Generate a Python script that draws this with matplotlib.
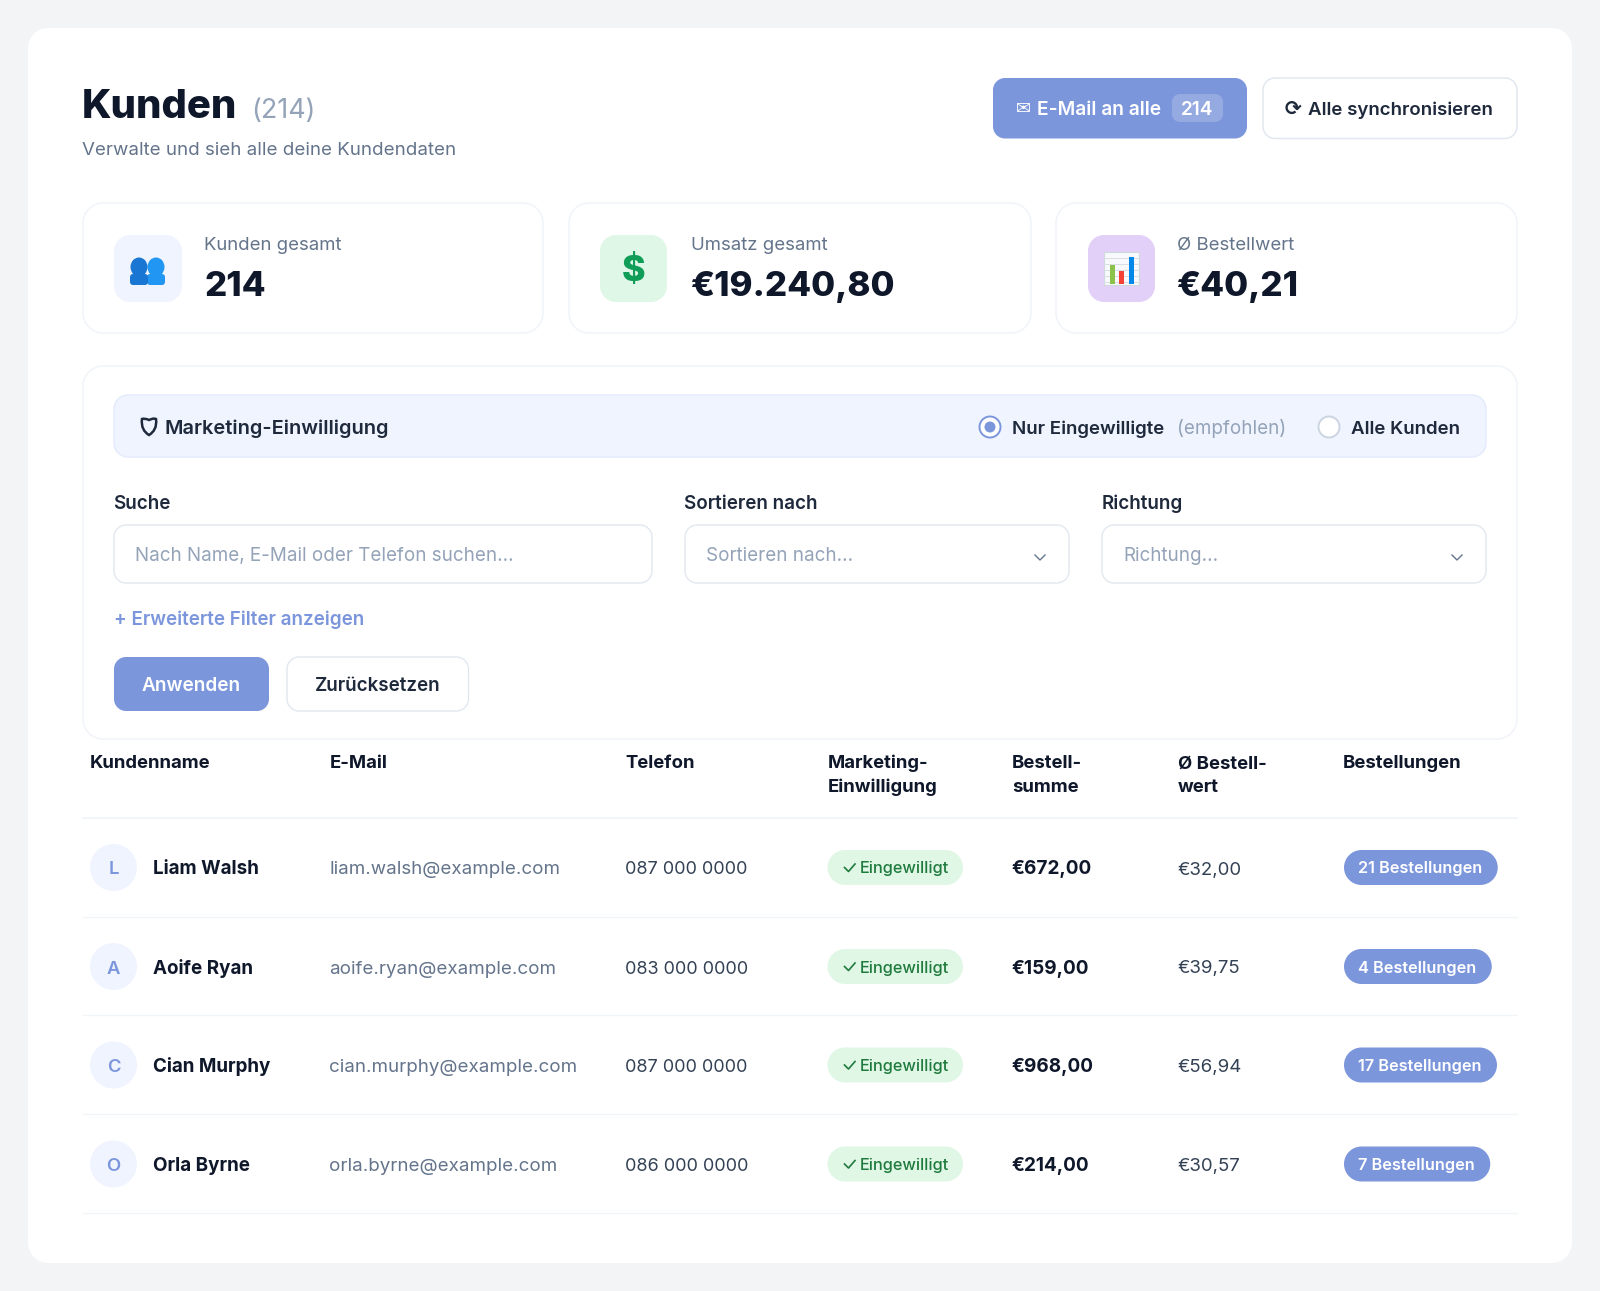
import matplotlib
matplotlib.use("Agg")
import matplotlib.pyplot as plt
from matplotlib.patches import PathPatch, Circle, Ellipse, Rectangle
from matplotlib.path import Path

FONT = ["Inter", "DejaVu Sans"]

# table data
names = ["Liam Walsh", "Aoife Ryan", "Cian Murphy", "Orla Byrne"]
emails = ["liam.walsh@example.com", "aoife.ryan@example.com", "cian.murphy@example.com", "orla.byrne@example.com"]
phones = ["087 000 0000", "083 000 0000", "087 000 0000", "086 000 0000"]
totals = ["€672,00", "€159,00", "€968,00", "€214,00"]
averages = ["€32,00", "€39,75", "€56,94", "€30,57"]
orders = ["21 Bestellungen", "4 Bestellungen", "17 Bestellungen", "7 Bestellungen"]
consent = "Eingewilligt"

headers = [["Kundenname"], ["E-Mail"], ["Telefon"], ["Marketing-", "Einwilligung"],
           ["Bestell-", "summe"], ["Ø Bestell-", "wert"], ["Bestellungen"]]

# stat cards
stat_labels = ["Kunden gesamt", "Umsatz gesamt", "Ø Bestellwert"]
stat_values = ["214", "€19.240,80", "€40,21"]

BLUE = "#7c96dc"
INK = "#0f172a"
DARK = "#1e293b"
SLATE = "#64748b"
MUTED = "#94a3b8"
LINE = "#e2e8f0"
SOFT = "#f1f5f9"
TINT = "#eff4ff"
K = 0.5523  # bezier circle constant

fig = plt.figure(figsize=(16, 12.91), dpi=100, facecolor="#f3f4f6")
ax = fig.add_axes([0, 0, 1, 1])
ax.set_xlim(0, 1600)
ax.set_ylim(1291, 0)
ax.axis("off")


def box(x0, y0, x1, y1, r, fc="white", ec="none", lw=0, alpha=None, z=1):
    # rounded rectangle with true circular corners
    c = r * (1 - K)
    verts = [(x0 + r, y0), (x1 - r, y0),
             (x1 - c, y0), (x1, y0 + c), (x1, y0 + r),
             (x1, y1 - r),
             (x1, y1 - c), (x1 - c, y1), (x1 - r, y1),
             (x0 + r, y1),
             (x0 + c, y1), (x0, y1 - c), (x0, y1 - r),
             (x0, y0 + r),
             (x0, y0 + c), (x0 + c, y0), (x0 + r, y0),
             (x0 + r, y0)]
    codes = [Path.MOVETO, Path.LINETO,
             Path.CURVE4, Path.CURVE4, Path.CURVE4,
             Path.LINETO,
             Path.CURVE4, Path.CURVE4, Path.CURVE4,
             Path.LINETO,
             Path.CURVE4, Path.CURVE4, Path.CURVE4,
             Path.LINETO,
             Path.CURVE4, Path.CURVE4, Path.CURVE4,
             Path.CLOSEPOLY]
    p = PathPatch(Path(verts, codes), fc=fc, ec=ec, lw=lw, alpha=alpha, zorder=z)
    ax.add_patch(p)
    return p


def txt(x, y, s, px, color=INK, weight=400, ha="left", va="baseline"):
    # sizes are given in pixels, figure runs at 100 dpi
    return ax.text(x, y, s, fontsize=px * 0.72, color=color, fontweight=weight, ha=ha, va=va,
                   family=FONT, zorder=5)


# main card
box(28, 28, 1572, 1263, 20)

# page header
txt(82, 118, "Kunden", 40, INK, 800)
txt(251.5, 118, "(214)", 27, MUTED)
txt(82.5, 155, "Verwalte und sieh alle deine Kundendaten", 18.75, SLATE)

box(993, 78, 1247, 138.5, 12, fc=BLUE)
txt(1016, 114, "✉", 18, "white")
txt(1037, 115, "E-Mail an alle", 19.2, "white", 600)
box(1172, 94, 1223, 122, 8, fc="white", alpha=0.2, z=2)
txt(1197.5, 115, "214", 19, "white", 600, ha="center")

box(1263, 78, 1517, 138.5, 12, ec=LINE, lw=1.1)
txt(1285, 115, "⟳", 20, DARK, 700)
txt(1308, 115, "Alle synchronisieren", 18.7, DARK, 600)

# stat cards
card_edges = [(83, 543), (569, 1031), (1056, 1517)]
icon_edges = [(114, 182), (600, 667), (1088, 1155)]
icon_colors = [TINT, "#dff7e6", "#e2d0f8"]
text_x = [204, 691, 1177]
for i in range(3):
    box(card_edges[i][0], 203, card_edges[i][1], 333, 20, ec=SOFT, lw=1.2)
    box(icon_edges[i][0], 235, icon_edges[i][1], 302, 16, fc=icon_colors[i])
    txt(text_x[i], 250, stat_labels[i], 18.6, SLATE)
    txt(text_x[i], 296, stat_values[i], 34.9, INK, 800)

# people icon
for cx, col, bx in [(156, "#2196f3", 147), (139, "#1976d2", 130)]:
    ax.add_patch(Ellipse((cx, 267), 17, 19, fc=col, ec="none", zorder=3))
    box(bx, 274, bx + 18, 285, 3, fc=col, z=3)

# dollar icon
txt(634, 271, "$", 36, "#0f9d58", 800, ha="center", va="center")

# small chart icon
ax.add_patch(Rectangle((1104, 252), 35, 33, fc="#f7f9fb", ec="#cfd8dc", lw=0.8, zorder=3))
for gy in [258, 264, 270, 276, 282]:
    ax.plot([1104, 1139], [gy, gy], color="#d8dee4", lw=0.7, zorder=3)
for bx, top, col in [(1110, 265, "#8bc34a"), (1119, 271, "#f44336"), (1129, 257, "#0288e8")]:
    ax.add_patch(Rectangle((bx, top), 4.5, 284 - top, fc=col, ec="none", zorder=4))

# filter panel
box(83, 366, 1517, 739, 20, ec=SOFT, lw=1.2)
box(114, 395, 1486, 457, 14, fc=TINT, ec="#e3eafb", lw=1.0)

# shield glyph, no installed font has it
shield = Path([(149, 420), (145, 418), (142, 419), (142, 419),
               (141, 427), (144, 432), (149, 435),
               (154, 432), (157, 427), (156, 419),
               (153, 418), (152, 419), (149, 420), (149, 420)],
              [Path.MOVETO, Path.CURVE3, Path.CURVE3, Path.LINETO,
               Path.CURVE4, Path.CURVE4, Path.CURVE4,
               Path.CURVE4, Path.CURVE4, Path.CURVE4,
               Path.CURVE4, Path.CURVE4, Path.CURVE4, Path.CLOSEPOLY])
ax.add_patch(PathPatch(shield, fc="none", ec=DARK, lw=1.8, zorder=4))
txt(165, 433.5, "Marketing-Einwilligung", 20, DARK, 600)

ax.add_patch(Circle((990, 427), 10.5, fc="white", ec=BLUE, lw=1.4, zorder=3))
ax.add_patch(Circle((990, 427), 5.5, fc=BLUE, ec="none", zorder=4))
txt(1012, 433.5, "Nur Eingewilligte", 18.7, DARK, 600)
txt(1177, 433.5, "(empfohlen)", 18.8, MUTED)
ax.add_patch(Circle((1329, 427), 10.5, fc="white", ec="#cbd5e1", lw=1.4, zorder=3))
txt(1351, 433.5, "Alle Kunden", 18.7, DARK, 600)

input_edges = [(114, 652), (685, 1069), (1102, 1486)]
input_labels = ["Suche", "Sortieren nach", "Richtung"]
placeholders = ["Nach Name, E-Mail oder Telefon suchen...", "Sortieren nach...", "Richtung..."]
for i in range(3):
    x0, x1 = input_edges[i]
    txt(x0 - 0.5, 509, input_labels[i], 18.8, DARK, 600)
    box(x0, 525, x1, 583, 12, ec=LINE, lw=1.0)
    txt(x0 + 21, 561, placeholders[i], 18.8, MUTED)
    if i > 0:
        cx = x1 - 29
        ax.plot([cx - 5, cx, cx + 5], [555, 560, 555], color=SLATE, lw=1.0, zorder=3)

txt(114, 625, "+ Erweiterte Filter anzeigen", 18.8, BLUE, 600)

box(114, 657, 269, 711, 12, fc=BLUE)
txt(191.5, 691, "Anwenden", 19, "white", 600, ha="center")
box(287, 657, 468.5, 711, 12, ec=LINE, lw=1.0)
txt(378, 691, "Zurücksetzen", 18.8, DARK, 600, ha="center")

# table
col_x = [90, 330, 625, 827.5, 1012, 1177.5, 1343]
for x, lines in zip(col_x, headers):
    for j, line in enumerate(lines):
        txt(x, 768.5 + j * 23.5, line, 18.5, INK, 700)
ax.plot([83, 1517], [817.5, 817.5], color=SOFT, lw=1.4, zorder=2)

row_y = [867.5, 966.5, 1065, 1164]
sep_y = [916.5, 1015, 1114, 1212.5]
renderer = fig.canvas.get_renderer()
for i, y in enumerate(row_y):
    ax.plot([83, 1517], [sep_y[i], sep_y[i]], color=SOFT, lw=1.0, zorder=2)
    ax.add_patch(Circle((113.5, y), 23.5, fc=TINT, ec="none", zorder=2))
    txt(113.5, y + 7, names[i][0], 18.5, BLUE, 600, ha="center")
    txt(153, y + 7, names[i], 18.8, INK, 700)
    txt(329.5, y + 7, emails[i], 18.75, SLATE)
    txt(625, y + 7, phones[i], 18, "#334155")
    box(827.5, y - 17.5, 963, y + 17.5, 17.5, fc="#e0f7e6")
    ax.plot([844.5, 848.5, 855], [y, y + 4, y - 3.5], color="#1f7a3d", lw=1.2, zorder=5)
    txt(860, y + 6, consent, 16.3, "#1f7a3d", 500)
    txt(1011.5, y + 7, totals[i], 19, INK, 700)
    txt(1177.5, y + 7, averages[i], 18.7, "#334155")
    t = txt(1358.5, y + 6, orders[i], 16.3, "white", 600)
    # pill width follows the label
    right = ax.transData.inverted().transform(t.get_window_extent(renderer).get_points())[1][0]
    box(1344, y - 17.5, right + 15, y + 17.5, 17.5, fc=BLUE)

fig.savefig("out.png", dpi=100, facecolor=fig.get_facecolor())
